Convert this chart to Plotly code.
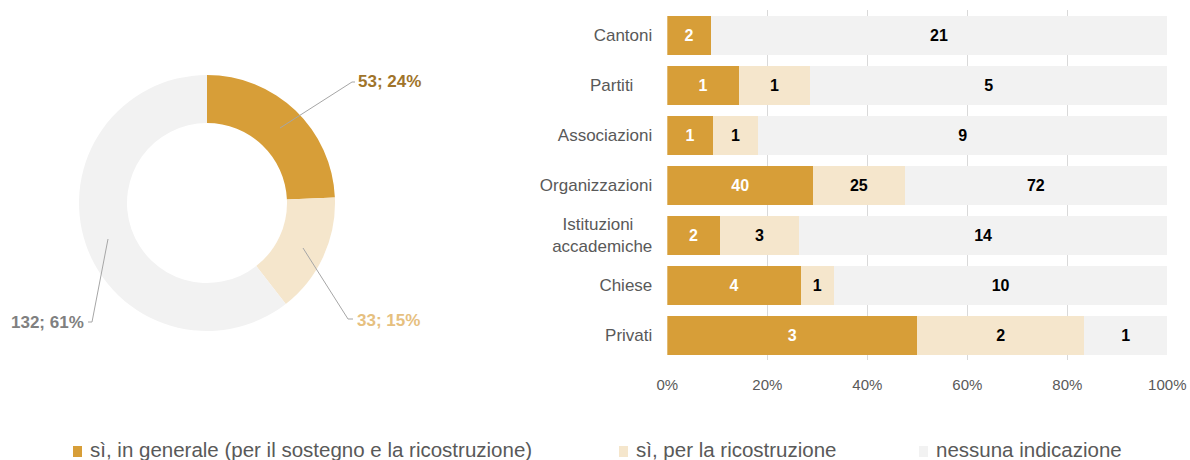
import plotly.graph_objects as go

# ---- data ----
categories = ["Cantoni", "Partiti", "Associazioni", "Organizzazioni",
              "Istituzioni accademiche", "Chiese", "Privati"]
tick_labels = ["Cantoni", "Partiti\u00a0\u00a0\u00a0\u00a0", "Associazioni", "Organizzazioni",
               "Istituzioni\u00a0\u00a0\u00a0\u00a0<br>accademiche", "Chiese", "Privati"]
series_names = ["sì, in generale (per il sostegno e la ricostruzione)",
                "sì, per la ricostruzione",
                "nessuna indicazione"]
si_generale = [2, 1, 1, 40, 2, 4, 3]
si_ricostruzione = [0, 1, 1, 25, 3, 1, 2]
nessuna = [21, 5, 9, 72, 14, 10, 1]
donut_values = [53, 33, 132]
x_ticks = [0, 20, 40, 60, 80, 100]

colors = ["#D79E38", "#F5E6CC", "#F2F2F2"]
label_colors = ["#A0742A", "#E6C07F", "#808080"]
text_colors = ["white", "black", "black"]
FONT = "Liberation Sans, Arial, sans-serif"

W, H = 1190, 460
def px(x):
    return x / W
def py(y):
    return 1 - y / H

fig = go.Figure()

# ---- donut ----
fig.add_trace(go.Pie(
    values=donut_values, labels=series_names, hole=0.625, sort=False,
    direction="clockwise", rotation=0,
    marker=dict(colors=colors, line=dict(width=0)),
    textinfo="none", hoverinfo="label+value+percent", showlegend=False,
    domain=dict(x=[px(207 - 128), px(207 + 128)], y=[py(203 + 128), py(203 - 128)]),
))

# ---- stacked bars ----
for name, vals, col, tcol in zip(series_names, [si_generale, si_ricostruzione, nessuna],
                                 colors, text_colors):
    fig.add_trace(go.Bar(
        y=categories, x=vals, name=name, orientation="h",
        marker=dict(color=col, line=dict(width=0)),
        text=[str(v) if v else "" for v in vals],
        textposition="inside", insidetextanchor="middle", textangle=0,
        constraintext="none",
        textfont=dict(family=FONT, size=16, color=tcol, weight="bold"),
        showlegend=False, xaxis="x", yaxis="y",
    ))

fig.update_layout(
    width=W, height=H, margin=dict(l=0, r=0, t=0, b=0, autoexpand=False),
    paper_bgcolor="white", plot_bgcolor="white",
    barmode="stack", barnorm="percent", bargap=0.22,
    font=dict(family=FONT, color="#595959"),
    xaxis=dict(domain=[px(667.3), px(1167.3)], range=[0, 100], tickvals=x_ticks,
               ticktext=[f"{t}%" for t in x_ticks], showgrid=True, gridcolor="#D9D9D9",
               gridwidth=1, zeroline=False, showline=False, automargin=False,
               tickfont=dict(size=15, color="#595959"), ticks="", ticklabelstandoff=14),
    yaxis=dict(domain=[py(360), py(10)], categoryorder="array", categoryarray=categories,
               autorange="reversed", tickvals=categories, ticktext=tick_labels,
               showgrid=False, zeroline=False, showline=False, ticks="", automargin=False,
               tickfont=dict(size=17, color="#595959"), ticklabelstandoff=14),
)

# ---- donut labels with leader lines ----
total = sum(donut_values)
label_pos = [  # (text x, text y, anchor, leader path pixels)
    (356, 82, "left", [(280, 128), (352, 82), (355, 82)]),
    (355, 320, "left", [(303, 248), (348, 319), (353, 319)]),
    (86, 322, "right", [(108, 239), (92, 322), (88, 322)]),
]
for v, lc, (tx, ty, anc, path) in zip(donut_values, label_colors, label_pos):
    fig.add_annotation(
        x=px(tx), y=py(ty), xref="paper", yref="paper", xanchor=anc, yanchor="middle",
        text=f"<b>{v}; {round(v / total * 100)}%</b>", showarrow=False,
        font=dict(family=FONT, size=17, color=lc))
    d = "M " + " L ".join(f"{px(a)} {py(b)}" for a, b in path)
    fig.add_shape(type="path", path=d, xref="paper", yref="paper",
                  line=dict(color="#A6A6A6", width=1))

# ---- legend (manual, bottom) ----
legend_x = [73, 619, 919]
for name, col, lx in zip(series_names, colors, legend_x):
    fig.add_shape(type="rect", xref="paper", yref="paper",
                  x0=px(lx), x1=px(lx + 9), y0=py(457), y1=py(446),
                  fillcolor=col, line=dict(width=0))
    fig.add_annotation(x=px(lx + 15), y=py(449), xref="paper", yref="paper",
                       xanchor="left", yanchor="middle", text=name, showarrow=False,
                       font=dict(family=FONT, size=20.5, color="#595959"))

fig.write_html("out.html", config={"displayModeBar": False},
               post_script="document.body.style.margin='0';document.body.style.overflow='hidden';")
